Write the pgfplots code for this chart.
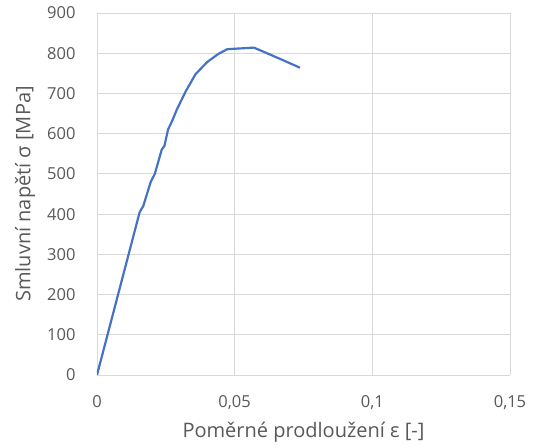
\documentclass[border=0pt]{standalone}
\usepackage{fontspec}
\setmainfont{Open Sans}
\usepackage{pgfplots}
\pgfplotsset{compat=1.18}
\definecolor{exblue}{HTML}{4472C4}
\definecolor{txtgray}{HTML}{595959}
\definecolor{gridgray}{HTML}{D9D9D9}
\begin{document}
\begin{tikzpicture}
\useasboundingbox (-97bp,-73bp) rectangle (438bp,375bp);
\begin{axis}[
  at={(0,0)}, anchor=south west,
  scale only axis, width=413bp, height=362bp,
  xmin=0, xmax=0.15, ymin=0, ymax=900,
  xtick={0,0.05,0.1,0.15},
  xticklabels={0,{0,05},{0,1},{0,15}},
  ytick={0,100,...,900},
  grid=major,
  major grid style={gridgray, line width=0.8pt},
  axis line style={draw=none},
  tick style={draw=none},
  /pgf/number format/assume math mode=true,
  ticklabel style={font=\fontsize{16.5bp}{19bp}\selectfont, text=txtgray},
  xticklabel style={yshift=-17bp},
  yticklabel style={xshift=-18bp},
  label style={font=\fontsize{20bp}{24bp}\selectfont, text=txtgray},
  xlabel={Poměrné prodloužení ε [-]},
  ylabel={Smluvní napětí σ [MPa]},
  xlabel style={at={(axis description cs:0.5,-0.158)}, anchor=center},
  ylabel style={at={(axis description cs:-0.174,0.5)}, anchor=center},
]
\addplot[exblue, line width=2.2pt, line join=round] coordinates {
(0,0)
(0.0155,405)
(0.0168,420)
(0.0195,480)
(0.021,500)
(0.0235,560)
(0.0245,570)
(0.0258,610)
(0.0275,635)
(0.029,660)
(0.0322,705)
(0.0358,748)
(0.040,778)
(0.0440,798)
(0.0473,810)
(0.0570,814)
(0.0668,785)
(0.0737,764)
};
\end{axis}
\end{tikzpicture}
\end{document}
